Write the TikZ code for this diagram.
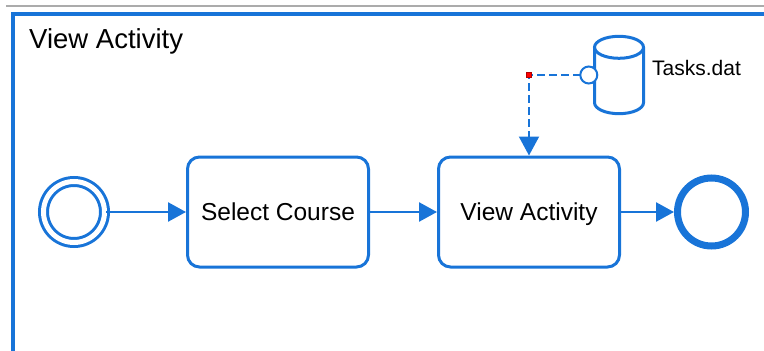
\documentclass[tikz,border=0pt]{standalone}
\usepackage{fontspec}
\setmainfont{Liberation Sans}
\usepackage{xcolor}
\usetikzlibrary{arrows.meta, positioning}
\definecolor{bpmnblue}{RGB}{24,116,216}
\tikzset{
  %% Task box
  taskbox/.style={
    rectangle, rounded corners=12pt,
    draw=bpmnblue, fill=white, line width=3pt,
    minimum width=181pt, minimum height=110pt,
    text height=17pt, text depth=0pt,
    text centered, font=\fontsize{24.5}{28}\selectfont
  },
  %% Start event (double ring)
  startev/.style={
    circle, draw=bpmnblue, line width=3pt,
    double=white, double distance=5pt,
    minimum size=61pt, inner sep=0pt
  },
  %% End event (thick ring)
  endev/.style={
    circle, draw=bpmnblue, line width=7pt,
    minimum size=68pt, inner sep=0pt
  },
  %% Data store outline
  storeline/.style={draw=bpmnblue, line width=3pt},
  %% Sequence flow
  seqflow/.style={-{Triangle[length=18pt,width=19pt]},
                  draw=bpmnblue, line width=2.5pt},
  %% Data association
  assoc/.style={-{Triangle[length=19pt,width=20pt]},
                draw=bpmnblue, line width=2pt,
                dash pattern=on 8pt off 4pt},
  handle/.style={circle, draw=bpmnblue, fill=white,
                 line width=2pt, minimum size=17pt, inner sep=0pt},
}

\begin{document}
\begin{tikzpicture}[x=1pt, y=-1pt]
  \useasboundingbox (0,0) rectangle (764,351);

  %% Frame
  \draw[black!33, line width=2pt] (6,6) -- (764,6);
  \draw[bpmnblue, line width=3.5pt] (13,360) -- (13,14) -- (770,14);
  \node[anchor=base west, inner sep=0pt, font=\fontsize{27.5}{32}\selectfont]
        (title) at (29,48) {View Activity};

  %% Events and tasks
  \node[startev] (start) at (74,212) {};
  \node[taskbox, right=80pt of start] (sel) {Select Course};
  \node[taskbox, right=67pt of sel]   (act) {View Activity};
  \node[endev,   right=53pt of act]   (end) {};

  %% Data store
  \node[minimum width=52pt, minimum height=80pt, inner sep=0pt]
        (tasks) at (619,75) {};
  \coordinate (stop) at ([shift={(0,12.5)}]tasks.north);
  \coordinate (sbot) at ([shift={(0,-12.5)}]tasks.south);
  \draw[storeline] (stop) ellipse[x radius=24.5, y radius=11];
  \draw[storeline] ([xshift=-24.5pt]stop) -- ([xshift=-24.5pt]sbot)
        arc[start angle=180, end angle=0, x radius=24.5, y radius=11]
        -- ([xshift=24.5pt]stop);
  \node[anchor=base west, inner sep=0pt, font=\fontsize{21}{25}\selectfont]
        (tasklbl) at (652,75) {Tasks.dat};

  %% Sequence flows
  \foreach \a/\b in {start/sel, sel/act, act/end}
    \draw[seqflow] (\a) -- (\b);

  %% Data association
  \coordinate (bend) at (act.north |- tasks.west);
  \draw[assoc] (tasks.west) -- (bend) -- (act.north);
  \node[handle] (hnd) at ([xshift=-4pt]tasks.west) {};
  \node[rectangle, fill=red, draw=red!70!black, line width=0.5pt,
        minimum size=5pt, inner sep=0pt] (wpt) at (bend) {};

\end{tikzpicture}
\end{document}
